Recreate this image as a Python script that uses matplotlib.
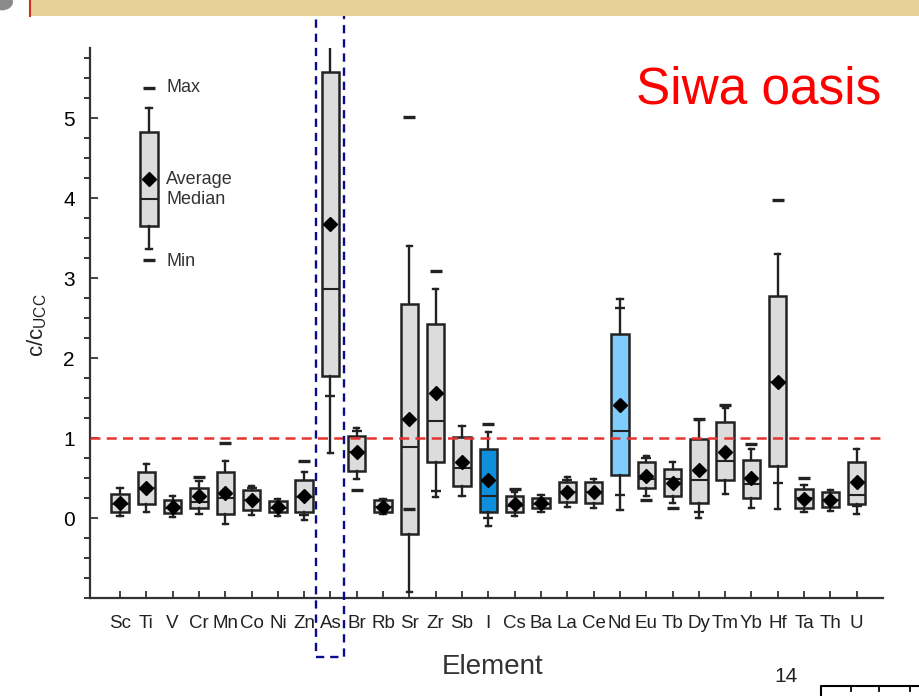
import numpy as np
import matplotlib
matplotlib.use("Agg")
import matplotlib.pyplot as plt
from matplotlib.patches import Rectangle, Circle
from matplotlib.lines import Line2D

plt.rcParams["font.family"] = ["Liberation Sans", "DejaVu Sans"]

elements = ["Sc", "Ti", "V", "Cr", "Mn", "Co", "Ni", "Zn", "As", "Br", "Rb", "Sr", "Zr", "Sb", "I",
            "Cs", "Ba", "La", "Ce", "Nd", "Eu", "Tb", "Dy", "Tm", "Yb", "Hf", "Ta", "Th", "U"]

q1 = [0.07, 0.18, 0.06, 0.12, 0.05, 0.10, 0.07, 0.08, 1.77, 0.59, 0.07, -0.20, 0.70, 0.40, 0.08,
      0.07, 0.12, 0.20, 0.19, 0.54, 0.37, 0.27, 0.19, 0.47, 0.25, 0.65, 0.13, 0.14, 0.18]
med = [0.17, 0.37, 0.13, 0.20, 0.25, 0.22, 0.13, 0.26, 2.86, 0.82, 0.14, 0.89, 1.21, 0.62, 0.27,
       0.15, 0.18, 0.32, 0.32, 1.09, 0.49, 0.49, 0.475, 0.71, 0.42, 1.70, 0.25, 0.22, 0.29]
q3 = [0.30, 0.575, 0.23, 0.38, 0.575, 0.35, 0.21, 0.475, 5.58, 1.03, 0.22, 2.68, 2.43, 1.01, 0.86,
      0.275, 0.25, 0.45, 0.45, 2.30, 0.70, 0.61, 0.99, 1.20, 0.73, 2.78, 0.36, 0.32, 0.70]
mean = [0.19, 0.38, 0.14, 0.27, 0.31, 0.23, 0.14, 0.27, 3.67, 0.82, 0.14, 1.24, 1.56, 0.70, 0.475,
        0.17, 0.19, 0.32, 0.32, 1.41, 0.53, 0.44, 0.60, 0.83, 0.50, 1.70, 0.24, 0.225, 0.45]
wlo = [0.03, 0.07, 0.01, 0.05, -0.08, 0.04, 0.025, -0.02, 0.81, 0.49, 0.05, -0.92, 0.26, 0.27, -0.10,
       0.03, 0.07, 0.14, 0.12, 0.10, 0.28, 0.19, 0.00, 0.30, 0.13, 0.11, 0.07, 0.09, 0.05]
whi = [0.38, 0.675, 0.28, 0.46, 0.71, 0.40, 0.24, 0.58, 5.91, 1.13, 0.24, 3.40, 2.86, 1.15, 1.07,
       0.32, 0.29, 0.51, 0.49, 2.74, 0.77, 0.70, 1.22, 1.375, 0.86, 3.30, 0.41, 0.35, 0.86]
# max / min dashes (None = not drawn)
max_dash = [None, None, None, 0.51, 0.94, None, None, 0.71, None, None, None, 5.01, 3.09, None, 1.18,
            0.36, None, None, None, None, None, None, 1.24, 1.41, 0.92, 3.98, 0.50, None, None]
min_dash = [None, None, None, None, None, None, None, None, None, 0.35, None, 0.11, None, None, None,
            None, None, None, None, None, 0.225, 0.13, None, None, None, None, None, None, None]
# small percentile marks sitting on the whiskers
plus_hi = [None, None, None, None, None, 0.37, None, None, None, 1.09, None, None, None, None, None,
           None, None, 0.48, None, 2.63, 0.75, None, None, None, None, None, None, None, None]
plus_lo = [None, None, None, None, None, None, None, 0.04, 1.53, None, None, None, 0.34, None, 0.00,
           None, None, None, None, 0.29, None, None, 0.07, None, None, 0.44, None, None, 0.15]
box_colors = ["#dcdcdc"] * 14 + ["#0e8fdc"] + ["#dcdcdc"] * 4 + ["#7fcdfb"] + ["#dcdcdc"] * 9

# legend box values
leg_stats = dict(whislo=3.36, q1=3.65, med=3.99, q3=4.83, whishi=5.125, mean=4.24)
leg_max, leg_min = 5.375, 3.23

fig = plt.figure(figsize=(9.19, 6.96), dpi=100)
ax = fig.add_axes([90 / 919, 1 - 598 / 696, 793 / 919, 550 / 696])

stats = []
for i in range(len(elements)):
    fl = [v for v in (max_dash[i], min_dash[i]) if v is not None]
    stats.append(dict(whislo=wlo[i], q1=q1[i], med=med[i], q3=q3[i], whishi=whi[i],
                      mean=mean[i], fliers=fl))
stats.append(dict(leg_stats, fliers=[leg_max, leg_min]))
pos = list(range(len(elements))) + [1.1]

edge = "#222222"
bp = ax.bxp(stats, positions=pos, widths=0.66, capwidths=0.2, patch_artist=True,
            showmeans=True, showfliers=True,
            boxprops=dict(edgecolor=edge, linewidth=1.8),
            medianprops=dict(color=edge, linewidth=1.5),
            whiskerprops=dict(color=edge, linewidth=1.7),
            capprops=dict(color=edge, linewidth=1.7),
            meanprops=dict(marker="D", markerfacecolor="black", markeredgecolor="black",
                           markersize=7.5),
            flierprops=dict(marker="_", markeredgecolor=edge, markersize=8, markeredgewidth=2.4))
for patch, c in zip(bp["boxes"], box_colors + ["#dcdcdc"]):
    patch.set_facecolor(c)

for i in range(len(elements)):
    for v in (plus_hi[i], plus_lo[i]):
        if v is not None:
            ax.plot(i, v, marker="_", color=edge, markersize=7, markeredgewidth=1.7, zorder=4)

ax.axhline(1.0, color="#e8342f", linestyle=(0, (4, 2.5)), linewidth=1.8, zorder=5)

# legend annotations
lc = "#333333"
ax.text(1.75, leg_max, "Max", fontsize=13, va="center", color=lc)
ax.text(1.75, 4.235, "Average", fontsize=13, va="center", color=lc)
ax.text(1.75, 3.975, "Median", fontsize=13, va="center", color=lc)
ax.text(1.75, leg_min - 0.02, "Min", fontsize=13, va="center", color=lc)

# highlight around As
ax.add_patch(Rectangle((7.45, -1.74), 1.07, 8.15, fill=False, edgecolor="#0a0a8c",
                       linewidth=1.7, linestyle=(0, (3.5, 2.5)), clip_on=False, zorder=6))

ax.set_xlim(-1.14, 29.0)
ax.set_ylim(-1.0, 5.875)
ax.set_xticks(range(len(elements)))
ax.set_xticklabels(elements, fontsize=13.5, color="#222222")
ax.set_yticks([0, 1, 2, 3, 4, 5])
ax.set_yticks(np.arange(-1, 5.9, 0.25), minor=True)
ax.tick_params(axis="both", direction="in", width=1.3, color="#333333")
ax.tick_params(axis="x", length=5, pad=12)
ax.tick_params(axis="y", which="major", length=6, pad=11, labelsize=15)
ax.tick_params(axis="y", which="minor", length=4, width=1.1)
for s in ("top", "right"):
    ax.spines[s].set_visible(False)
for s in ("left", "bottom"):
    ax.spines[s].set_linewidth(1.6)
    ax.spines[s].set_color("#333333")

ax.set_ylabel("c/c$_{\\mathregular{UCC}}$", fontsize=16, color="#222222")
ax.yaxis.set_label_coords(-0.052, 0.496)
ax.set_xlabel("Element", fontsize=20, color="#333333")
ax.xaxis.set_label_coords(0.508, -0.102)

# slide decorations
fig.patches.append(Rectangle((30 / 919, 1 - 16 / 696), 889 / 919, 16 / 696,
                             transform=fig.transFigure, facecolor="#e9cf98", edgecolor="none"))
fig.lines.append(Line2D([30 / 919, 30 / 919], [1, 1 - 16 / 696], transform=fig.transFigure,
                        color="#cc3322", linewidth=1.5))
fig.patches.append(Circle((2 / 919, 1 - 2 / 696), 11 / 919, transform=fig.transFigure,
                          facecolor="#8a8a8a", edgecolor="none"))
fig.text(636 / 919, 1 - 104 / 696, "Siwa oasis", fontsize=37, color="#ff0000", va="baseline")
fig.text(786 / 919, 1 - 677 / 696, "14", fontsize=15, color="#222222", ha="center", va="center")
fig.lines.append(Line2D([821 / 919, 821 / 919, 1], [0, 10 / 696, 10 / 696],
                        transform=fig.transFigure, color="black", linewidth=1.5))
for tx in (851, 879, 910):
    fig.lines.append(Line2D([tx / 919, tx / 919], [10 / 696, 5 / 696],
                            transform=fig.transFigure, color="black", linewidth=1.3))

fig.savefig("out.png", dpi=100)
